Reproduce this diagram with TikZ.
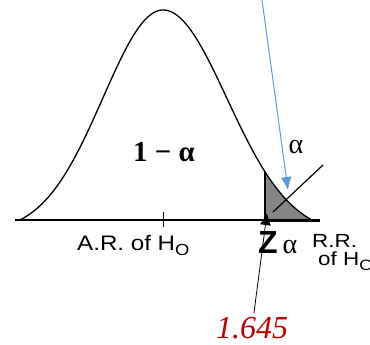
\documentclass[tikz,border=0pt]{standalone}
\usepackage{fontspec}
\setmainfont{Liberation Serif}
\setsansfont{Liberation Sans}
\usetikzlibrary{arrows.meta}
\definecolor{arrowblue}{HTML}{5B9BD5}
\definecolor{valred}{HTML}{C00000}

\begin{document}
\begin{tikzpicture}[x=1pt, y=-1pt, >=Latex,
  lbl/.style={font=\sffamily\fontsize{21}{21}\selectfont, xscale=1.15, inner sep=0pt},
  small lbl/.style={font=\sffamily\fontsize{19}{19}\selectfont, xscale=1.18, inner sep=0pt},
  declare function={
    fl(\t)=220-210*(exp(-0.5*(((\t-163)/60)^2))-0.0584)/(1-0.0584);
    fr(\t)=220-210*(exp(-0.5*(((\t-163)/64)^2))-0.0665)/(1-0.0665);}]

\useasboundingbox (0,0) rectangle (370,345);

% Rejection region
\fill[black!48] (265,220) -- plot[domain=265:312, samples=30] (\x,{fr(\x)}) -- cycle;
\draw[line width=1.6pt] (265,220) -- (265,{fr(265)});

% Axis
\draw[line width=1.2pt] (15,220) -- (320,220);
\draw[line width=3pt] (265,220) -- (320,220);
\draw[line width=1pt] (163,212) -- (163,227);

% Bell curve
\draw[line width=1.3pt] plot[domain=20:163, samples=60] (\x,{fl(\x)})
  -- plot[domain=163:312, samples=60] (\x,{fr(\x)});

% Labels
\node[font=\bfseries\fontsize{29}{29}\selectfont, inner sep=0pt] (accept) at (164,152) {1 − α};
\node[font=\fontsize{28}{28}\selectfont, inner sep=0pt] (alpha) at (296,147) {α};
\node[lbl, anchor=base west] (ar) at (77,250) {A.R. of H\raisebox{-5pt}{\fontsize{16}{16}\selectfont O}};
\node[anchor=base west, inner sep=0pt] (zalpha) at (258,253)
  {{\sffamily\bfseries\fontsize{32}{32}\selectfont Z}\hspace{5pt}{\fontsize{28}{28}\selectfont α}};
\node[small lbl, anchor=base west] (rr) at (312,247) {R.R.};
\node[small lbl, anchor=base west] (rrof) at (318,265) {of H\raisebox{-5pt}{\fontsize{15}{15}\selectfont O}};
\node[font=\itshape\fontsize{32}{32}\selectfont, text=valred, inner sep=4pt] (val) at (252,328) {1.645};

% Pointers
\coordinate (crit) at (267,213);
\draw[-{Latex[length=12pt,width=11pt]}, line width=0.8pt] (val) -- (crit);

\coordinate (btop) at (262,0);
\coordinate (btip) at (288,190);
\draw[arrowblue, line width=1pt, -{Latex[length=13pt,width=11pt]}] (btop) -- (btip);

\coordinate (dtop) at (323,165);
\coordinate (dend) at (273,212);
\draw[line width=1.2pt] (dtop) -- (dend);

\end{tikzpicture}
\end{document}
